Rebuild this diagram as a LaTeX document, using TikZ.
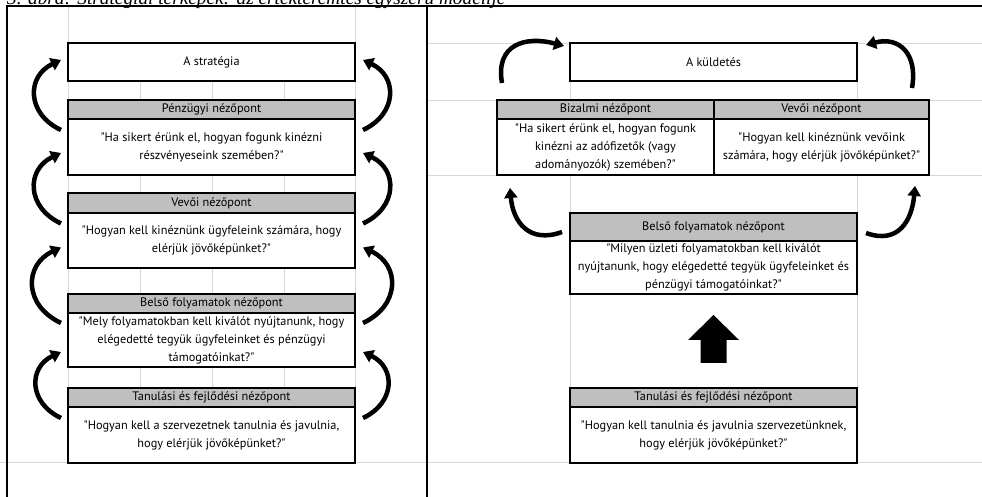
\documentclass[tikz,border=0pt]{standalone}
\usepackage{fontspec}
\setmainfont{Liberation Serif}
\newfontfamily\boxfont{PT Sans}
\usetikzlibrary{arrows.meta}
\definecolor{hdrgray}{RGB}{191,191,191}
\definecolor{gridgray}{RGB}{215,215,215}

\begin{document}
\begin{tikzpicture}[
    x=1pt, y=1pt,
    box/.style={rectangle, draw, line width=1.7pt, fill=white, inner sep=0pt, outer sep=0pt, align=center, font=\boxfont\fontsize{12.3}{18}\selectfont},
    head/.style={box, fill=hdrgray, minimum height=19pt},
    body/.style={box, minimum height=56pt},
    wide/.style={minimum width=287pt},
    cyc/.style={line width=4.5pt, -{Triangle[width=13pt,length=10pt]}},
    gridline/.style={gridgray, line width=0.8pt},
    frame/.style={line width=1.5pt}
]
\useasboundingbox (0,0) rectangle (982,497);

% Cell grid
\foreach \gx in {68,355} \draw[gridline] (\gx,491) -- (\gx,35);
\foreach \gx in {140,212,284} \draw[gridline] (\gx,416) -- (\gx,35);
\foreach \gy in {454,397,322} \draw[gridline] (427,\gy) -- (982,\gy);
\foreach \gx in {570,857} \draw[gridline] (\gx,454) -- (\gx,35);
\draw[gridline] (0,35) -- (982,35);

% Frame
\draw[frame] (7,0) -- (7,491) -- (982,491);
\draw[frame] (427,0) -- (427,491);

% Caption (cut by the page top)
\node[anchor=base west, inner sep=0pt] (cap) at (7,492)
    {\fontsize{19.3}{21}\selectfont\itshape 3. ábra: Stratégiai térképek: az értékteremtés egyszerű modellje};

% Left map
\node[box, wide, minimum height=38pt] (strat) at (211.5,435) {A stratégia};
\node[head, wide] (penh) at (211.5,387.5) {Pénzügyi nézőpont};
\node[body, wide] (penb) at (211.5,350) {"Ha sikert érünk el, hogyan fogunk kinézni\\részvényeseink szemében?"};
\node[head, wide, minimum height=20pt] (vevh) at (211.5,294) {Vevői nézőpont};
\node[body, wide, minimum height=55pt] (vevb) at (211.5,256.5) {"Hogyan kell kinéznünk ügyfeleink számára, hogy\\elérjük jövőképünket?"};
\node[head, wide] (belh) at (211.5,193.5) {Belső folyamatok nézőpont};
\node[body, wide, minimum height=54pt] (belb) at (211.5,157) {"Mely folyamatokban kell kiválót nyújtanunk, hogy\\elégedetté tegyük ügyfeleinket és pénzügyi\\támogatóinkat?"};
\node[head, wide] (tanh) at (211.5,99.5) {Tanulási és fejlődési nézőpont};
\node[body, wide] (tanb) at (211.5,62) {"Hogyan kell a szervezetnek tanulnia és javulnia,\\hogy elérjük jövőképünket?"};

% Left map, feedback arrows
\draw[cyc] ([xshift=-7pt,yshift=17pt]penb.west) to[out=155,in=205,looseness=1.4] ([xshift=-7pt,yshift=2pt]strat.west);
\draw[cyc] ([xshift=-7pt,yshift=17pt]vevb.west) to[out=155,in=205,looseness=1.4] ([xshift=-7pt,yshift=-6pt]penb.west);
\draw[cyc] ([xshift=-7pt,yshift=17pt]belb.west) to[out=155,in=205,looseness=1.4] ([xshift=-7pt,yshift=-7pt]vevb.west);
\draw[cyc] ([xshift=-7pt,yshift=17pt]tanb.west) to[out=155,in=205,looseness=1.4] ([xshift=-7pt,yshift=-12pt]belb.west);
\draw[cyc] ([xshift=8pt,yshift=17pt]penb.east) to[out=25,in=-25,looseness=1.4] ([xshift=8pt,yshift=2pt]strat.east);
\draw[cyc] ([xshift=8pt,yshift=17pt]vevb.east) to[out=25,in=-25,looseness=1.4] ([xshift=8pt,yshift=-6pt]penb.east);
\draw[cyc] ([xshift=8pt,yshift=17pt]belb.east) to[out=25,in=-25,looseness=1.4] ([xshift=8pt,yshift=-7pt]vevb.east);
\draw[cyc] ([xshift=8pt,yshift=17pt]tanb.east) to[out=25,in=-25,looseness=1.4] ([xshift=8pt,yshift=-12pt]belb.east);

% Right map
\node[box, wide, minimum height=38pt] (kuld) at (713.5,435) {A küldetés};
\node[head, minimum width=217pt] (bizh) at (605.5,387.5) {Bizalmi nézőpont};
\node[body, minimum width=217pt] (bizb) at (605.5,350) {"Ha sikert érünk el, hogyan fogunk\\kinézni az adófizetők (vagy\\adományozók) szemében?"};
\node[head, minimum width=215pt] (vevh2) at (821.5,387.5) {Vevői nézőpont};
\node[body, minimum width=215pt] (vevb2) at (821.5,350) {"Hogyan kell kinéznünk vevőink\\számára, hogy elérjük jövőképünket?"};
\node[head, wide, minimum height=28pt] (belh2) at (713.5,270) {Belső folyamatok nézőpont};
\node[body, wide, minimum height=53pt] (belb2) at (713.5,229.5) {"Milyen üzleti folyamatokban kell kiválót\\nyújtanunk, hogy elégedetté tegyük ügyfeleinket és\\pénzügyi támogatóinkat?"};
\node[head, wide] (tanh2) at (713.5,99.5) {Tanulási és fejlődési nézőpont};
\node[body, wide] (tanb2) at (713.5,62) {"Hogyan kell tanulnia és javulnia szervezetünknek,\\hogy elérjük jövőképünket?"};

% Right map, arrows
\draw[cyc] ([xshift=5pt,yshift=17pt]bizh.north west) to[out=100,in=165,looseness=1.4] ([xshift=-6pt,yshift=-3pt]kuld.north west);
\draw[cyc] ([xshift=-17pt,yshift=12pt]vevh2.north east) to[out=80,in=15,looseness=1.4] ([xshift=9pt,yshift=-2pt]kuld.north east);
\draw[cyc] ([xshift=-8pt,yshift=-5pt]belh2.west) to[out=200,in=-85,looseness=1.3] ([xshift=13pt,yshift=-13pt]bizb.south west);
\draw[cyc] ([xshift=9pt,yshift=-6pt]belh2.east) to[out=-20,in=-95,looseness=1.3] ([xshift=-14pt,yshift=-11pt]vevb2.south east);

\coordinate (upfoot) at ([yshift=25pt]tanh2.north);
\fill ([xshift=-13pt]upfoot) -- ++(0,23) -- ++(-12.5,0) -- ++(25.5,25) -- ++(25.5,-25) -- ++(-12.5,0) -- ++(0,-23) -- cycle;

\end{tikzpicture}
\end{document}
